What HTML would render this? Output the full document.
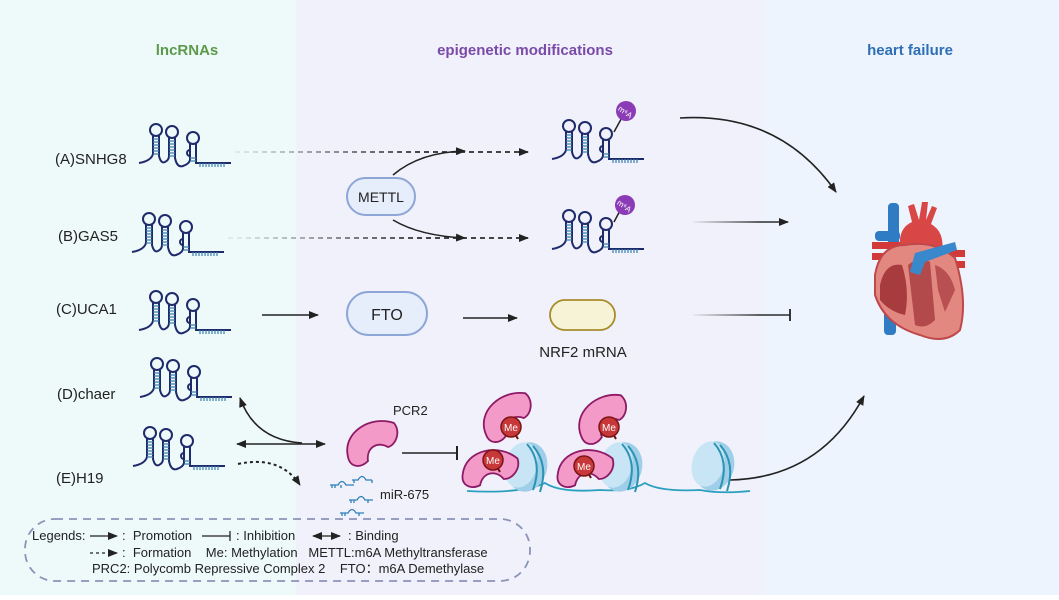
<!DOCTYPE html>
<html><head><meta charset="utf-8"><style>
html,body{margin:0;padding:0}
body{width:1059px;height:595px;overflow:hidden;font-family:"Liberation Sans",sans-serif}
text{white-space:pre}
</style></head><body>
<svg width="1059" height="595" viewBox="0 0 1059 595" xmlns="http://www.w3.org/2000/svg" font-family="Liberation Sans, sans-serif">
<defs>
<marker id="ah" markerWidth="10" markerHeight="8" refX="9" refY="4" orient="auto" markerUnits="userSpaceOnUse"><path d="M0,0 L10,4 L0,8 Z" fill="#222"/></marker>
<marker id="ahs" markerWidth="10" markerHeight="8" refX="1" refY="4" orient="auto" markerUnits="userSpaceOnUse"><path d="M10,0 L0,4 L10,8 Z" fill="#222"/></marker>
<linearGradient id="gA" gradientUnits="userSpaceOnUse" x1="235" y1="0" x2="420" y2="0"><stop offset="0" stop-color="#222" stop-opacity="0.08"/><stop offset="1" stop-color="#222" stop-opacity="0.95"/></linearGradient>
<linearGradient id="gR" gradientUnits="userSpaceOnUse" x1="693" y1="0" x2="760" y2="0"><stop offset="0" stop-color="#222" stop-opacity="0.05"/><stop offset="1" stop-color="#222" stop-opacity="0.95"/></linearGradient>
<symbol id="rna" overflow="visible">
<g fill="none" stroke="#1f2a6b" stroke-width="2">
<path d="M0,39 Q12,37 14,30 L14,12"/>
<path d="M20,12 L20,32 Q22,40 26,38 Q30,36 30,32 L30,14"/>
<path d="M36,14 L36,34 Q38,44 44,42 Q50,40 51,36 L51,20"/>
<path d="M57,20 L57,39 L92,39"/>
<circle cx="17" cy="6" r="6"/><circle cx="33" cy="8" r="6"/><circle cx="54" cy="14" r="6"/>
<path d="M51,26 a3,3 0 0 0 0,6"/>
</g>
<g stroke="#3a7fb0" stroke-width="1.2">
<path d="M14,15h6M14,18h6M14,21h6M14,24h6M14,27h6M14,30h6"/>
<path d="M30,17h6M30,20h6M30,23h6M30,26h6M30,29h6M30,32h6"/>
<path d="M51,34h6M51,37h6"/>
<path d="M61,39v4M64,39v4M67,39v4M70,39v4M73,39v4M76,39v4M79,39v4M82,39v4M85,39v4"/>
</g>
</symbol>
<symbol id="nuc" overflow="visible">
<ellipse cx="24" cy="25" rx="20" ry="25" fill="#9fcfe8" transform="rotate(15 24 25)"/>
<ellipse cx="18" cy="23" rx="16" ry="23" fill="#c8e5f6" transform="rotate(15 18 23)"/>
<path d="M24,2 Q40,20 30,48 M30,4 Q46,22 37,50" stroke="#2b93b3" stroke-width="2" fill="none"/>
</symbol>
<symbol id="pcr" overflow="visible">
<path d="M2,40 C-4,15 25,-2 48,6 C55,15 50,28 42,30 C32,24 20,30 22,44 C14,52 4,50 2,40 Z" fill="#f49ac8" stroke="#8d1a66" stroke-width="1.8"/>
</symbol>
<symbol id="me" overflow="visible">
<line x1="0" y1="0" x2="7" y2="12" stroke="#6b1010" stroke-width="2"/>
<circle cx="0" cy="0" r="10" fill="#c8383a" stroke="#7a1515" stroke-width="1.5"/>
<text x="0" y="4" font-size="10" fill="#fff" text-anchor="middle">Me</text>
</symbol>
</defs>
<rect x="0" y="0" width="296" height="595" fill="#eefaf9"/>
<rect x="296" y="0" width="466" height="595" fill="#f0f1fa"/>
<rect x="762" y="0" width="297" height="595" fill="#edf4fd"/>

<text x="187" y="55" font-size="15" font-weight="bold" fill="#5c9a4a" text-anchor="middle">lncRNAs</text>
<text x="525" y="55" font-size="15" font-weight="bold" fill="#7a4aaa" text-anchor="middle">epigenetic modifications</text>
<text x="910" y="55" font-size="15" font-weight="bold" fill="#2f6fb5" text-anchor="middle">heart failure</text>

<g font-size="15" fill="#222">
<text x="55" y="164">(A)SNHG8</text>
<text x="58" y="241">(B)GAS5</text>
<text x="56" y="314">(C)UCA1</text>
<text x="57" y="399">(D)chaer</text>
<text x="56" y="483">(E)H19</text>
</g>
<use href="#rna" x="139" y="124"/>
<use href="#rna" x="132" y="213"/>
<use href="#rna" x="139" y="291"/>
<use href="#rna" x="140" y="358"/>
<use href="#rna" x="133" y="427"/>

<!-- dashed arrows -->
<line x1="235" y1="152" x2="528" y2="152" stroke="url(#gA)" stroke-width="1.8" stroke-dasharray="5,4" marker-end="url(#ah)"/>
<line x1="228" y1="238" x2="528" y2="238" stroke="url(#gA)" stroke-width="1.8" stroke-dasharray="5,4" marker-end="url(#ah)"/>
<rect x="347" y="178" width="68" height="37" rx="18.5" fill="#e6eefb" stroke="#8ea6d6" stroke-width="2"/>
<text x="381" y="202" font-size="14" text-anchor="middle" fill="#222">METTL</text>
<path d="M393,175 Q420,152 465,151" fill="none" stroke="#222" stroke-width="1.5" marker-end="url(#ah)"/>
<path d="M393,220 Q420,236 465,238" fill="none" stroke="#222" stroke-width="1.5" marker-end="url(#ah)"/>

<use href="#rna" x="552" y="120"/>
<use href="#rna" x="552" y="210"/>
<line x1="614" y1="132" x2="625" y2="112" stroke="#222" stroke-width="1.5"/>
<circle cx="626" cy="111" r="10" fill="#8a3bb5"/>
<text x="626" y="115" font-size="8" fill="#fff" text-anchor="middle" transform="rotate(35 626 111)">m⁶A</text>
<line x1="614" y1="222" x2="623" y2="205" stroke="#222" stroke-width="1.5"/>
<circle cx="625" cy="205" r="10" fill="#8a3bb5"/>
<text x="625" y="209" font-size="8" fill="#fff" text-anchor="middle" transform="rotate(35 625 205)">m⁶A</text>

<line x1="262" y1="315" x2="318" y2="315" stroke="#222" stroke-width="1.5" marker-end="url(#ah)"/>
<rect x="347" y="292" width="80" height="43" rx="21.5" fill="#e6eefb" stroke="#8ea6d6" stroke-width="2"/>
<text x="387" y="320" font-size="16" text-anchor="middle" fill="#222">FTO</text>
<line x1="463" y1="318" x2="517" y2="318" stroke="#222" stroke-width="1.5" marker-end="url(#ah)"/>
<rect x="550" y="300" width="65" height="30" rx="15" fill="#f7f3d6" stroke="#a88c2c" stroke-width="1.8"/>
<text x="583" y="357" font-size="15" text-anchor="middle" fill="#222">NRF2 mRNA</text>

<!-- right arrows -->
<path d="M680,118 Q780,112 836,192" fill="none" stroke="#222" stroke-width="1.6" marker-end="url(#ah)"/>
<line x1="693" y1="222" x2="788" y2="222" stroke="url(#gR)" stroke-width="1.6" marker-end="url(#ah)"/>
<line x1="693" y1="315" x2="790" y2="315" stroke="url(#gR)" stroke-width="1.6"/>
<line x1="790" y1="309" x2="790" y2="321" stroke="#222" stroke-width="1.8"/>
<path d="M730,480 Q820,478 864,396" fill="none" stroke="#222" stroke-width="1.6" marker-end="url(#ah)"/>

<!-- heart -->
<g>
<rect x="884" y="285" width="12" height="50" rx="4" fill="#2f7bc4"/>
<rect x="888" y="203" width="11" height="70" rx="4" fill="#2f7bc4"/>
<rect x="875" y="231" width="25" height="10" rx="4" fill="#2f7bc4"/>
<path d="M872,242 h30 v7 h-30z M872,253 h30 v7 h-30z" fill="#d23a3a"/>
<path d="M940,250 h25 v7 h-25z M940,261 h25 v7 h-25z" fill="#d23a3a"/>
<path d="M900,248 Q898,228 912,222 L908,206 L914,204 L919,220 L922,202 L928,202 L926,220 L932,206 L937,208 L931,224 Q945,232 942,252 Z" fill="#d84646"/>
<path d="M875,275 Q880,245 905,245 Q935,240 955,258 Q968,300 960,330 Q945,345 920,335 Q885,325 875,295Z" fill="#e28880" stroke="#c0474a" stroke-width="2"/>
<path d="M880,285 Q885,262 902,265 Q910,290 905,315 Q890,312 880,300Z" fill="#a83b3e"/>
<path d="M908,265 Q920,255 930,262 L935,320 Q925,330 915,325Z" fill="#b24a4c"/>
<path d="M935,265 Q950,270 955,290 L945,312 L938,290Z" fill="#b84f50"/>
<path d="M915,253 L955,242 L957,250 L925,262 L920,275 L910,272Z" fill="#3a88cc"/>
</g>

<!-- D/E arrows -->
<path d="M302,443 Q255,440 240,398" fill="none" stroke="#222" stroke-width="1.6" marker-end="url(#ah)"/>
<line x1="237" y1="444" x2="325" y2="444" stroke="#222" stroke-width="1.6" marker-end="url(#ah)" marker-start="url(#ahs)"/>
<path d="M238,464 Q280,455 300,485" fill="none" stroke="#222" stroke-width="2" stroke-dasharray="3,3" marker-end="url(#ah)"/>

<!-- miRNA -->
<g fill="none" stroke="#2f7fb8" stroke-width="1.3">
<path d="M330,485 h8 q4,-7 8,0 h8 M349,500 h8 q4,-7 8,0 h8 M340,513 h8 q4,-7 8,0 h8 M352,480 h6 q4,-7 8,0 h6"/>
<path d="M332,485v3M335,485v3M341,485v3M351,500v3M354,500v3M368,500v3M342,513v3M345,513v3M359,513v3M354,480v3M372,480v3"/>
</g>
<text x="380" y="499" font-size="13" fill="#222">miR-675</text>

<use href="#pcr" x="346" y="417"/>
<text x="393" y="415" font-size="13" fill="#222">PCR2</text>
<line x1="402" y1="453" x2="457" y2="453" stroke="#222" stroke-width="1.5"/>
<line x1="457" y1="446" x2="457" y2="460" stroke="#222" stroke-width="2"/>

<!-- chromatin -->
<path d="M467,491 Q520,494 545,483 Q560,493 600,490 Q630,492 645,483 Q660,492 700,490 Q720,494 750,491" fill="none" stroke="#2b9fbf" stroke-width="1.8"/>
<use href="#nuc" x="503" y="442"/>
<use href="#nuc" x="598" y="442"/>
<use href="#nuc" x="690" y="441"/>
<use href="#pcr" x="480" y="392" transform="rotate(-10 500 410)"/>
<use href="#pcr" x="465" y="440" transform="rotate(20 480 465)"/>
<use href="#pcr" x="575" y="394" transform="rotate(-10 595 410)"/>
<use href="#pcr" x="560" y="440" transform="rotate(20 575 465)"/>
<use href="#me" x="511" y="427"/>
<use href="#me" x="493" y="460"/>
<use href="#me" x="609" y="427"/>
<use href="#me" x="584" y="466"/>

<!-- legend -->
<rect x="25" y="519" width="505" height="62" rx="30" fill="none" stroke="#8a93b8" stroke-width="1.8" stroke-dasharray="8,6"/>
<g font-size="13" fill="#222">
<text x="32" y="540">Legends:</text>
<line x1="90" y1="536" x2="117" y2="536" stroke="#222" stroke-width="1.3" marker-end="url(#ah)"/>
<text x="122" y="540">:  Promotion</text>
<line x1="202" y1="536" x2="230" y2="536" stroke="#222" stroke-width="1.3"/><line x1="230" y1="531" x2="230" y2="541" stroke="#222" stroke-width="1.3"/>
<text x="236" y="540">: Inhibition</text>
<line x1="313" y1="536" x2="340" y2="536" stroke="#222" stroke-width="1.3" marker-end="url(#ah)" marker-start="url(#ahs)"/>
<text x="348" y="540">: Binding</text>
<line x1="90" y1="553" x2="117" y2="553" stroke="#222" stroke-width="1.3" stroke-dasharray="3,3" marker-end="url(#ah)"/>
<text x="122" y="557">:  Formation    Me: Methylation   METTL:m6A Methyltransferase</text>
<text x="92" y="573">PRC2: Polycomb Repressive Complex 2    FTO：m6A Demethylase</text>
</g>
</svg>
</body></html>
